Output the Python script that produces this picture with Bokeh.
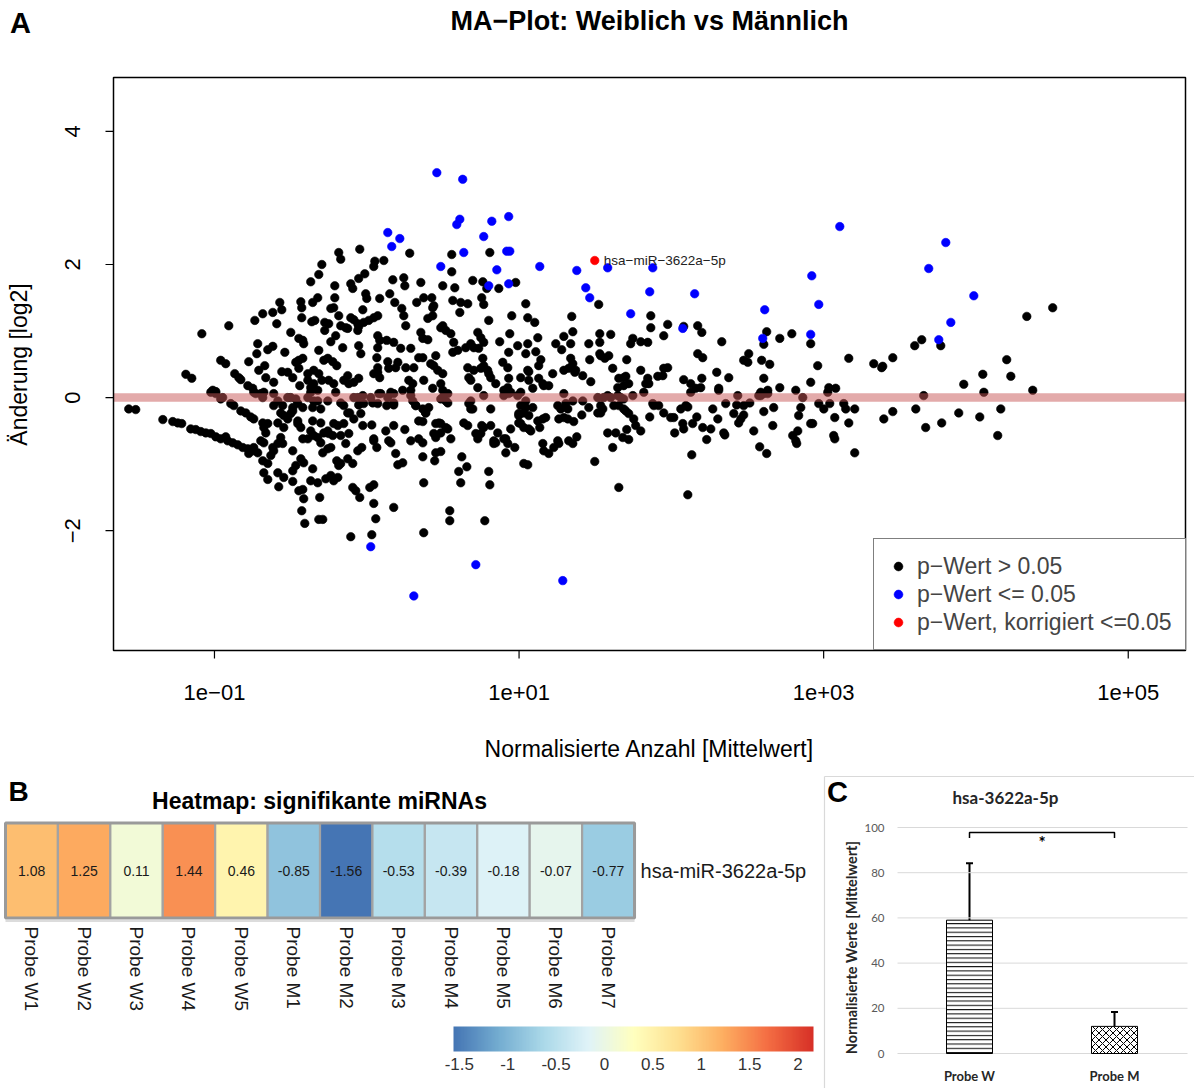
import math
from bokeh.plotting import figure
from bokeh.layouts import column, row
from bokeh.models import (Range1d, FixedTicker, CustomJSTickFormatter, Legend, LegendItem,
                          LinearColorMapper, ColorBar, ColumnDataSource, Whisker, TeeHead)
from bokeh.core.properties import value, field
from bokeh.palettes import RdYlBu9
from bokeh.embed import file_html
from bokeh.resources import INLINE

# ---------------------------------------------------------------- data
# MA plot: (log10 of mean normalized count, log2 fold change)
ns_points = [
    (-1.083, 0.96), (-0.906, 1.08), (-1.188, 0.35), (-1.149, 0.29), (-0.959, 0.56), (-0.926, 0.51),
    (-1.011, 0.11), (-0.991, 0.09), (-0.867, 0.36), (-0.840, 0.30), (-0.827, 0.27), (-0.775, 0.54),
    (-0.781, 0.18), (-0.749, 0.14), (-0.729, 0.06), (-0.735, 1.16), (-0.683, 1.26), (-0.617, 1.28),
    (-0.591, 1.11), (-0.571, 1.43), (-0.558, 1.32), (-0.716, 0.81), (-0.722, 0.66), (-0.650, 0.72),
    (-0.617, 0.77), (-0.709, 0.41), (-0.670, 0.48), (-0.663, 0.30), (-0.611, 0.23), (-0.538, 0.68),
    (-0.499, 0.98), (-0.558, 0.39), (-0.519, 0.38), (-0.486, 0.30), (-0.446, 0.56), (-0.440, 0.18),
    (-0.433, 1.44), (-0.427, 1.35), (-0.427, 1.20), (-0.361, 1.14), (-0.341, 1.16), (-0.446, 0.89),
    (-0.414, 0.81), (-0.368, 1.74), (-0.355, 1.43), (-0.322, 1.50), (-0.315, 1.85), (-0.295, 2.00),
    (-0.276, 1.13), (-0.250, 1.11), (-0.276, 1.01), (-0.236, 0.84), (-0.236, 1.34), (-0.217, 1.35),
    (-0.210, 1.50), (-0.210, 1.68), (-0.184, 2.18), (-0.171, 2.08), (-0.184, 1.23), (-0.171, 1.08),
    (-0.138, 1.05), (-0.158, 0.75), (-0.315, 0.71), (-0.282, 0.56), (-0.256, 0.59), (-0.223, 0.54),
    (-0.197, 0.48), (-0.348, 0.41), (-0.315, 0.36), (-0.295, 0.26), (-0.250, 0.26), (-0.217, 0.21),
    (-0.151, 0.26), (-0.118, 0.21), (-0.368, 0.15), (-0.322, 0.11), (-0.387, 0.26), (-0.105, 1.71),
    (-0.092, 1.64), (-0.053, 1.79), (-0.046, 2.23), (-0.013, 1.86), (-0.007, 1.56), (0.000, 1.49),
    (-0.026, 1.32), (-0.105, 1.20), (-0.085, 1.17), (-0.059, 1.11), (-0.053, 1.07), (-0.020, 1.13),
    (0.013, 1.16), (0.046, 1.20), (0.072, 1.23), (-0.053, 0.78), (-0.039, 0.66), (0.053, 2.05),
    (0.046, 1.97), (0.085, 1.49), (0.112, 2.06), (0.072, 0.93), (0.085, 0.86), (0.072, 0.75),
    (0.066, 0.60), (0.072, 0.45), (0.072, 0.38), (0.085, 0.30), (-0.053, 0.29), (0.138, 0.54),
    (0.144, 0.44), (0.171, 1.77), (0.151, 1.56), (0.184, 1.43), (0.230, 1.34), (0.243, 1.23),
    (0.256, 1.08), (0.282, 2.17), (0.243, 1.80), (0.250, 1.68), (0.355, 1.73), (0.328, 1.43),
    (0.374, 1.50), (0.401, 1.19), (0.355, 0.98), (0.401, 0.87), (0.131, 0.86), (0.177, 0.83),
    (0.223, 0.74), (0.204, 0.53), (0.256, 0.45), (0.309, 0.45), (0.276, 0.26), (0.302, 0.21),
    (0.368, 0.60), (0.420, 0.51), (0.466, 0.41), (0.486, 0.21), (0.499, 0.11), (0.433, 1.35),
    (0.433, 1.23), (0.427, 1.50), (0.499, 1.68), (0.558, 2.15), (0.558, 1.89), (0.578, 1.65),
    (0.565, 1.46), (0.617, 1.43), (0.611, 1.28), (0.663, 1.41), (0.696, 1.76), (0.808, 2.18),
    (0.762, 1.74), (0.788, 1.64), (0.755, 1.50), (0.768, 1.40), (0.801, 1.16), (0.499, 1.08),
    (0.519, 1.01), (0.552, 0.96), (0.571, 0.83), (0.598, 0.71), (0.565, 0.68), (0.650, 0.75),
    (0.683, 0.81), (0.729, 0.98), (0.749, 0.90), (0.768, 0.83), (0.703, 0.75), (0.735, 0.74),
    (0.762, 0.59), (0.663, 0.45), (0.703, 0.41), (0.749, 0.44), (0.794, 0.41), (0.683, 0.26),
    (0.729, 0.15), (0.814, 0.30), (0.847, 0.21), (0.867, 1.64), (0.978, 1.73), (0.952, 1.23),
    (0.939, 0.96), (0.873, 0.84), (0.932, 0.68), (0.991, 0.78), (1.057, 0.81), (0.893, 0.53),
    (0.926, 0.45), (0.932, 0.29), (1.044, 1.41), (1.057, 1.20), (1.011, 0.30), (1.064, 0.26),
    (1.044, 0.66), (0.374, 0.26), (0.433, 0.14), (0.900, 0.11), (0.945, 0.08),
    (-1.563, -0.17), (-1.517, -0.18), (-1.339, -0.33), (-1.274, -0.36), (-1.241, -0.38),
    (-1.215, -0.39), (-1.156, -0.47), (-1.123, -0.48), (-1.090, -0.51), (-1.057, -0.53),
    (-1.024, -0.54), (-0.991, -0.59), (-0.959, -0.62), (-0.926, -0.59), (-0.913, -0.65),
    (-0.880, -0.68), (-0.847, -0.71), (-0.814, -0.75), (-0.781, -0.77), (-0.749, -0.80),
    (-0.716, -0.83), (-0.775, -0.84), (-0.742, -0.75), (-0.827, -0.20), (-0.794, -0.23),
    (-0.762, -0.29), (-0.742, -0.32), (-0.683, -0.38), (-0.676, -0.45), (-0.650, -0.39),
    (-0.663, -0.53), (-0.676, -0.68), (-0.617, -0.75), (-0.611, -0.80), (-0.683, -0.95),
    (-0.650, -0.99), (-0.676, -1.13), (-0.650, -1.23), (-0.630, -0.87), (-0.584, -1.13),
    (-0.578, -1.34), (-0.545, -1.20), (-0.486, -1.26), (-0.565, -0.60), (-0.552, -0.69),
    (-0.545, -0.45), (-0.611, -0.12), (-0.545, -0.27), (-0.519, -0.32), (-0.486, -0.20),
    (-0.486, -0.80), (-0.453, -0.39), (-0.486, -1.10), (-0.466, -1.02), (-0.433, -0.92),
    (-0.414, -0.98), (-0.368, -1.25), (-0.322, -1.28), (-0.355, -1.07), (-0.446, -1.40),
    (-0.420, -1.38), (-0.414, -1.52), (-0.427, -1.70), (-0.407, -1.89), (-0.315, -1.83),
    (-0.289, -1.83), (-0.309, -1.50), (-0.368, -0.50), (-0.348, -0.57), (-0.322, -0.60),
    (-0.420, -0.62), (-0.282, -0.53), (-0.250, -0.54), (-0.223, -0.57), (-0.289, -0.83),
    (-0.256, -0.77), (-0.236, -0.75), (-0.269, -1.22), (-0.236, -1.17), (-0.217, -1.25),
    (-0.190, -1.20), (-0.197, -0.95), (-0.184, -1.02), (-0.171, -0.99), (-0.217, -0.39),
    (-0.151, -0.39), (-0.171, -0.57), (-0.138, -0.69), (-0.118, -0.54), (-0.125, -0.92),
    (-0.092, -0.99), (-0.059, -0.80), (-0.033, -0.75), (-0.092, -1.35), (-0.072, -1.40),
    (-0.046, -1.50), (-0.112, -0.23), (-0.053, -0.11), (-0.039, -0.24), (0.033, -0.41),
    (0.046, -0.65), (0.066, -0.75), (0.020, -1.35), (0.046, -1.31), (0.046, -1.59),
    (0.059, -1.82), (0.033, -2.06), (-0.105, -2.09), (0.125, -0.50), (0.158, -0.68),
    (0.177, -0.42), (0.190, -0.84), (0.204, -1.01), (0.236, -0.98), (0.177, -1.65),
    (0.250, -0.48), (0.131, -0.12), (0.177, -0.11), (0.322, -0.12), (0.368, -0.17),
    (0.387, -0.23), (0.368, -0.36), (0.341, -0.62), (0.368, -0.68), (0.368, -0.89),
    (0.374, -1.28), (0.374, -2.03), (0.440, -0.54), (0.453, -0.60), (0.473, -0.38),
    (0.486, -0.39), (0.453, -0.83), (0.486, -0.81), (0.446, -0.95), (0.532, -0.47),
    (0.552, -0.62), (0.545, -1.70), (0.545, -1.85), (0.624, -0.89), (0.604, -1.11),
    (0.657, -1.04), (0.617, -1.28), (0.637, -0.38), (0.663, -0.42), (0.683, -0.17),
    (0.670, -0.09), (0.729, -0.62), (0.749, -0.54), (0.755, -0.42), (0.801, -1.11),
    (0.808, -1.31), (0.775, -1.85), (0.814, -0.17), (0.814, -0.42), (0.834, -0.69),
    (0.847, -0.68), (0.860, -0.53), (0.913, -0.62), (0.926, -0.69), (0.913, -0.83),
    (0.945, -0.47), (0.972, -0.75), (0.998, -0.27), (1.011, -0.39), (1.031, -0.45),
    (1.031, -0.99), (1.057, -1.01), (1.011, -0.12),
    (-1.024, 0.08), (-0.959, -0.02), (-0.893, -0.09), (-0.742, 0.08), (-0.676, 0.08),
    (-0.499, 0.00), (-0.453, -0.09), (-0.368, 0.08), (-0.322, -0.05), (-0.171, -0.08),
    (-0.059, 0.00), (-0.020, -0.09), (0.092, 0.06), (0.177, 0.06), (0.289, 0.11),
    (0.486, -0.02), (0.532, -0.08), (0.683, -0.05), (0.768, 0.03), (0.900, 0.03), (0.991, 0.03),
    (1.077, -0.50), (1.064, -0.27), (1.044, -0.15), (1.136, -0.45), (1.156, -0.32), (1.175, -0.30),
    (1.162, -0.80), (1.195, -0.84), (1.228, -0.75), (1.261, -0.69), (1.254, -0.12), (1.274, -0.17),
    (1.307, -0.09), (1.261, -0.32), (1.294, -0.30), (1.320, -0.32), (1.359, -0.36), (1.353, -0.69),
    (1.379, -0.59), (1.412, -0.26), (1.418, -0.05), (1.458, -0.15), (1.497, -0.96), (1.536, -0.12),
    (1.536, -0.23), (1.550, -0.17), (1.582, -0.53), (1.635, -0.53), (1.615, -0.75), (1.655, -1.35),
    (1.655, -0.12), (1.701, -0.20), (1.720, -0.24), (1.681, -0.60), (1.720, -0.63), (1.707, -0.48),
    (1.753, -0.32), (1.766, -0.42), (1.799, -0.50), (1.858, -0.29), (1.885, -0.12), (1.917, -0.12),
    (1.950, -0.23), (1.996, -0.30), (2.016, -0.30), (2.022, -0.53), (2.062, -0.17), (2.108, -0.14),
    (2.075, -0.39), (2.081, -0.47), (2.108, -1.46), (2.134, -0.86), (2.140, -0.39), (2.167, -0.29),
    (2.206, -0.45), (2.259, -0.47), (2.232, -0.63), (2.272, -0.17), (2.305, -0.32), (2.344, -0.53),
    (2.351, -0.56), (2.357, -0.09), (2.429, -0.11), (2.442, -0.38), (2.456, -0.32), (2.475, -0.26),
    (2.515, -0.08), (2.541, -0.50), (2.580, -0.74), (2.607, -0.21), (2.626, -0.84), (2.666, -0.42),
    (2.672, -0.15), (2.797, -0.57), (2.830, -0.50), (2.817, -0.65), (2.823, -0.69), (2.836, -0.27),
    (2.850, -0.15), (2.915, -0.39), (2.928, -0.39), (2.968, -0.09), (3.001, -0.17), (3.040, -0.09),
    (3.066, -0.57), (3.073, -0.62), (3.073, -0.30), (3.132, -0.09), (3.145, -0.17), (3.165, -0.38),
    (3.204, -0.17), (3.204, -0.83), (3.395, -0.32), (3.454, -0.21),
    (0.932, 0.06), (1.011, 0.08), (1.294, 0.06), (1.517, 0.00), (1.582, 0.03), (1.648, 0.03),
    (1.747, 0.03), (1.819, 0.08), (2.127, 0.08), (2.311, 0.11), (2.436, 0.03), (2.587, 0.03),
    (2.633, 0.06), (2.863, 0.00), (3.027, 0.08),
    (1.103, 1.13), (1.346, 1.22), (1.523, 1.40), (1.123, 0.90), (1.110, 0.69), (1.143, 0.57),
    (1.129, 0.48), (1.064, 0.39), (1.129, 0.29), (1.162, 0.18), (1.221, 0.36), (1.090, 0.14),
    (1.241, 0.81), (1.280, 0.72), (1.294, 0.92), (1.339, 0.81), (1.353, 0.99), (1.339, 0.59),
    (1.294, 0.41), (1.326, 0.44), (1.366, 0.38), (1.418, 0.33), (1.458, 0.81), (1.464, 0.57),
    (1.471, 0.24), (1.530, 0.96), (1.530, 0.83), (1.530, 0.66), (1.563, 0.59), (1.602, 0.95),
    (1.615, 0.44), (1.655, 0.29), (1.701, 0.32), (1.707, 0.57), (1.648, 0.15), (1.687, 0.18),
    (1.720, 0.21), (1.733, 0.81), (1.747, 0.89), (1.799, 0.84), (1.845, 0.83), (1.799, 0.41),
    (1.845, 0.29), (1.852, 0.21), (1.865, 1.23), (1.865, 1.05), (1.911, 0.32), (1.944, 0.33),
    (1.950, 0.93), (1.976, 1.10), (1.950, 0.44), (1.976, 0.45), (2.081, 1.07), (2.081, 0.27),
    (2.127, 0.21), (2.173, 1.08), (2.200, 0.98), (2.173, 0.66), (2.206, 0.60), (2.200, 0.29),
    (2.298, 0.38), (2.331, 0.84), (2.377, 0.30), (2.311, 0.14), (2.508, 0.66), (2.502, 0.53),
    (2.593, 0.56), (2.646, 0.50), (2.607, 0.80), (2.626, 0.99), (2.607, 0.29), (2.633, 0.11),
    (2.587, 0.08), (2.712, 0.89), (2.712, 0.15), (2.791, 0.96), (2.817, 0.11), (2.915, 0.81),
    (2.961, 0.48), (2.915, 0.23), (3.034, 0.15), (3.079, 0.14), (3.165, 0.59), (3.329, 0.51),
    (3.381, 0.45), (3.454, 0.60),
    (3.388, 0.47), (3.598, 0.78), (3.644, 0.87), (3.769, 0.78), (4.334, 1.22), (4.504, 1.35),
    (4.202, 0.57), (4.045, 0.35), (4.229, 0.32), (3.920, 0.20), (3.657, 0.03), (4.052, 0.08),
    (4.373, 0.11), (3.605, -0.17), (3.670, -0.45), (3.775, -0.38), (3.887, -0.23), (4.025, -0.29),
    (4.163, -0.17), (4.143, -0.57),
    (-0.991, 0.06), (-0.946, 0.00), (-0.873, -0.12), (-0.696, 0.06), (-0.683, 0.00), (-0.611, 0.06),
    (-0.584, -0.05), (-0.552, -0.12), (-0.519, 0.00), (-0.466, -0.02), (-0.486, -0.15),
    (-0.420, -0.15), (-0.387, 0.00), (-0.348, -0.05), (-0.355, -0.15), (-0.302, -0.17),
    (-0.256, -0.05), (-0.204, 0.08), (-0.151, -0.12), (-0.125, -0.23), (-0.085, 0.00),
    (-0.026, 0.03), (0.026, 0.00), (0.039, -0.08), (0.072, -0.09),
    (0.079, 0.06), (0.138, 0.00), (0.158, 0.08), (0.177, -0.08), (0.236, 0.11), (0.302, -0.05),
    (0.289, 0.03), (0.322, -0.12), (0.387, -0.23), (0.407, -0.15), (0.499, 0.00), (0.519, -0.05),
    (0.532, 0.06), (0.696, -0.17), (0.926, 0.15), (1.044, -0.05), (0.998, -0.24), (1.031, -0.23),
    (1.090, -0.15), (1.156, 0.21), (1.195, 0.18), (1.320, -0.17), (1.353, -0.05),
    (1.556, 0.00), (1.602, 0.00), (1.668, 0.00), (1.687, -0.02), (1.878, -0.09), (1.517, -0.23),
    (1.622, -0.12), (1.687, -0.17), (2.160, 0.14), (2.193, 0.15), (2.475, -0.12), (2.574, 0.03),
    (2.607, 0.06), (2.410, -0.24), (2.095, -0.12),
    (0.440, 1.38), (0.486, 1.05), (-0.059, 1.01), (-0.125, 1.04), (-0.420, 0.86), (-0.204, 0.93),
    (0.368, 0.89), (0.289, 0.74),
    (-0.466, 0.53), (-0.446, 0.44), (-0.420, 0.59), (-0.387, 0.36), (-0.348, 0.21), (-0.125, 0.33),
    (-0.085, 0.23), (0.046, 0.36),
    (-0.565, -0.23), (-0.584, -0.38), (-0.499, -0.24), (-0.453, -0.35), (-0.433, -0.45),
    (-0.355, -0.35), (-0.302, -0.38), (-0.256, -0.50), (-0.190, -0.42), (-0.085, -0.32),
    (-0.026, -0.42), (0.046, -0.62), (-0.302, -0.68), (-0.387, -0.62), (-0.584, -0.69),
    (-0.696, -0.65),
    (0.190, 0.45), (0.341, 0.60), (0.440, 0.48), (0.453, 0.63), (0.499, 0.36), (0.670, 0.30),
    (0.768, 0.48), (0.801, 0.36), (1.057, 0.41), (1.353, 0.51),
    (0.144, -0.65), (0.289, -0.65), (0.341, -0.35), (0.453, -0.39), (0.486, -0.53), (0.519, -0.45),
    (0.716, -0.54), (0.768, -0.45), (0.834, -0.65), (0.900, -0.62), (0.998, -0.38), (1.064, -0.47),
    (1.123, -0.35), (1.156, -0.69), (1.254, -0.65), (1.326, -0.65),
    (1.372, 0.41), (1.536, 0.63), (1.589, 0.63), (1.687, 0.30), (1.832, 0.21), (2.475, 0.56),
]

sig_points = [
    (0.460, 3.38), (0.630, 3.28), (0.591, 2.60), (0.611, 2.68), (0.821, 2.65), (0.932, 2.72),
    (0.768, 2.42), (0.138, 2.48), (0.217, 2.39), (0.164, 2.27), (0.486, 1.97), (0.637, 2.18),
    (0.919, 2.20), (0.939, 2.20), (0.854, 1.92), (0.801, 1.68), (0.932, 1.71), (1.136, 1.97),
    (1.379, 1.91), (1.582, 1.95), (1.878, 1.95), (1.438, 1.65), (1.464, 1.50), (1.858, 1.59),
    (2.153, 1.56), (1.733, 1.26), (2.075, 1.04), (2.613, 1.32), (2.600, 0.89), (3.106, 2.57),
    (2.922, 1.83), (2.968, 1.40), (2.915, 0.95), (3.802, 2.33), (3.690, 1.94), (3.986, 1.53),
    (3.835, 1.13), (3.756, 0.87), (0.026, -2.24), (0.309, -2.98), (0.716, -2.51), (1.287, -2.75),
]

padj_points = [(1.497, 2.06)]
padj_names = ["hsa−miR−3622a−5p"]

legend_labels = ["p−Wert > 0.05", "p−Wert <= 0.05", "p−Wert, korrigiert <=0.05"]
ma_x_ticks = [0.1, 10, 1000, 100000]
ma_y_ticks = [-2, 0, 2, 4]

# Heatmap of the significant miRNA (row-scaled expression)
samples = ["Probe W1", "Probe W2", "Probe W3", "Probe W4", "Probe W5", "Probe M1",
           "Probe M2", "Probe M3", "Probe M4", "Probe M5", "Probe M6", "Probe M7"]
heat_values = [1.08, 1.25, 0.11, 1.44, 0.46, -0.85, -1.56, -0.53, -0.39, -0.18, -0.07, -0.77]
heat_mirna = "hsa-miR-3622a-5p"
scale_low, scale_high = -1.56, 2.16
colorbar_ticks = [-1.5, -1, -0.5, 0, 0.5, 1, 1.5, 2]

# Bar chart: group means with standard deviation
groups = ["Probe W", "Probe M"]
group_means = [59.0, 12.0]
group_sd = [25.2, 6.4]
value_ticks = [0, 20, 40, 60, 80, 100]

FONT = "Liberation Sans"
CFONT = "Lato"


def split(points):
    return [10 ** p[0] for p in points], [p[1] for p in points]


def sci_label(t):
    e = round(math.log10(t))
    return "1e" + ("−" if e < 0 else "+") + f"{abs(e):02d}"


def minus_label(t):
    return ("−" + str(abs(t))) if t < 0 else str(t)


# ---------------------------------------------------------------- panel A: MA plot
WA, HA = 1194, 770
BOX_L, BOX_R, BOX_T, BOX_B = 113, 1185, 77, 650       # plot box on the canvas (px)
X0_LOG, X1_LOG = -1.663, 5.376                         # data extent of the box
Y0, Y1 = -3.80, 4.81
dec_px = (BOX_R - BOX_L) / (X1_LOG - X0_LOG)
unit_px = (BOX_B - BOX_T) / (Y1 - Y0)


def ax_x(px):
    return 10 ** (X0_LOG + (px - BOX_L) / dec_px)


def ax_y(py):
    return Y1 - (py - BOX_T) / unit_px


pa = figure(width=WA, height=HA, x_axis_type="log",
            x_range=Range1d(ax_x(0), ax_x(WA)), y_range=Range1d(ax_y(HA), ax_y(0)),
            x_axis_location=None, y_axis_location=None, min_border=0,
            output_backend="svg", toolbar_location=None)
pa.grid.visible = False
pa.outline_line_color = None

nx, ny = split(ns_points)
sx, sy = split(sig_points)
px_, py_ = split(padj_points)
r_ns = pa.scatter(nx, ny, size=8.5, fill_color="black", line_color="black", line_width=0.6)
r_sig = pa.scatter(sx, sy, size=8.5, fill_color="#0000ff", line_color="#0000ff", line_width=0.6)
r_padj = pa.scatter(px_, py_, size=8.5, fill_color="#ff0000", line_color="#ff0000", line_width=0.6)
pa.text(px_, py_, text=padj_names, x_offset=9, text_baseline="middle", text_align="left",
        text_font=value(FONT), text_font_size="13.5px", text_color="#222222")

# translucent zero line across the box, drawn over the points
pa.segment(x0=[ax_x(BOX_L)], x1=[ax_x(BOX_R)], y0=[0], y1=[0], line_color="#c75555",
           line_alpha=0.5, line_width=8.5)

# box, ticks, tick labels, axis titles
pa.quad(left=[ax_x(BOX_L)], right=[ax_x(BOX_R)], bottom=[Y0], top=[Y1], fill_color=None,
        line_color="black", line_width=1.5)
pa.segment(x0=ma_x_ticks, x1=ma_x_ticks, y0=[Y0] * 4, y1=[ax_y(BOX_B + 8)] * 4,
           line_color="black", line_width=1.2)
pa.segment(x0=[ax_x(BOX_L - 8)] * 4, x1=[ax_x(BOX_L)] * 4, y0=ma_y_ticks, y1=ma_y_ticks,
           line_color="black", line_width=1.2)
pa.text(x=ma_x_ticks, y=[ax_y(692)] * 4, text=[sci_label(t) for t in ma_x_ticks],
        text_align="center", text_baseline="middle", text_font=value(FONT),
        text_font_size="22px", text_color="black")
pa.text(x=[ax_x(72)] * 4, y=ma_y_ticks, text=[minus_label(t) for t in ma_y_ticks],
        angle=math.pi / 2, text_align="center", text_baseline="middle",
        text_font=value(FONT), text_font_size="22px", text_color="black")
pa.text(x=[ax_x(649)], y=[ax_y(748)], text=["Normalisierte Anzahl [Mittelwert]"],
        text_align="center", text_baseline="middle", text_font=value(FONT),
        text_font_size="23px", text_color="black")
pa.text(x=[ax_x(18)], y=[ax_y(364)], text=["Änderung [log2]"], angle=math.pi / 2,
        text_align="center", text_baseline="middle", text_font=value(FONT),
        text_font_size="23px", text_color="black")
pa.text(x=[ax_x(649)], y=[ax_y(20)], text=["MA−Plot: Weiblich vs Männlich"],
        text_align="center", text_baseline="middle", text_font=value(FONT),
        text_font_size="27px", text_font_style="bold", text_color="black")
pa.text(x=[ax_x(20)], y=[ax_y(22)], text=["A"], text_align="center", text_baseline="middle",
        text_font=value(FONT), text_font_size="29px", text_font_style="bold", text_color="black")

legend = Legend(items=[LegendItem(label=legend_labels[0], renderers=[r_ns]),
                       LegendItem(label=legend_labels[1], renderers=[r_sig]),
                       LegendItem(label=legend_labels[2], renderers=[r_padj])],
                location=(873, HA - BOX_B), margin=0, padding=13, spacing=0,
                glyph_width=22, glyph_height=28, label_height=28, label_standoff=8,
                label_text_font=FONT, label_text_font_size="23px",
                border_line_color="black", border_line_width=1.2,
                background_fill_color="white", background_fill_alpha=1)
pa.add_layout(legend)

# ---------------------------------------------------------------- panel B: heatmap
WB, HB = 822, 318
pb = figure(width=WB, height=HB, x_range=Range1d(0, WB), y_range=Range1d(0, HB),
            x_axis_location=None, y_axis_location=None, output_backend="svg",
            toolbar_location=None, min_border=0)
pb.grid.visible = False
pb.outline_line_color = None

cell_left, cell_w = 5.0, 52.42
cell_top, cell_h = 52.5, 95.0
row_y = HB - (cell_top + cell_h / 2)
label_top = HB - 156


def blend(c0, c1, t):
    a = [int(c0[i:i + 2], 16) for i in (1, 3, 5)]
    b = [int(c1[i:i + 2], 16) for i in (1, 3, 5)]
    return "#" + "".join(f"{round(a[k] + (b[k] - a[k]) * t):02x}" for k in range(3))


anchors = list(RdYlBu9)          # blue -> yellow -> red
palette = []
for k in range(256):
    t = k / 255 * (len(anchors) - 1)
    i = min(int(t), len(anchors) - 2)
    palette.append(blend(anchors[i], anchors[i + 1], t - i))
mapper = LinearColorMapper(palette=palette, low=scale_low, high=scale_high)

centers = [cell_left + (i + 0.5) * cell_w for i in range(len(samples))]
heat_src = ColumnDataSource(dict(x=centers, y=[row_y] * len(samples), v=heat_values,
                                 label=[f"{v:.2f}" for v in heat_values], name=samples))
# faint shadow under the heatmap strip
pb.segment(x0=[cell_left], x1=[cell_left + cell_w * len(samples)],
           y0=[row_y - cell_h / 2 - 3], y1=[row_y - cell_h / 2 - 3],
           line_color="#dcdcdc", line_width=2)
pb.rect(x="x", y="y", width=cell_w, height=cell_h, source=heat_src,
        fill_color={"field": "v", "transform": mapper}, line_color="#a3a3a3", line_width=2.2)
pb.rect(x=[cell_left + cell_w * len(samples) / 2], y=[row_y], width=cell_w * len(samples),
        height=cell_h, fill_color=None, line_color="#9a9a9a", line_width=3)
pb.text(x="x", y="y", text="label", source=heat_src, text_align="center",
        text_baseline="middle", text_font=value(FONT), text_font_size="14px",
        text_color="#1a1a1a")
pb.text(x=[cell_left + cell_w * len(samples) + 6], y=[row_y], text=[heat_mirna],
        text_align="left", text_baseline="middle", text_font=value(FONT),
        text_font_size="20px", text_color="#1a1a1a")
pb.text(x="x", y=label_top, text="name", source=heat_src,
        angle=-math.pi / 2, text_align="left", text_baseline="middle",
        text_font=value(FONT), text_font_size="19px", text_color="#1a1a1a")
pb.text(x=[319], y=[HB - 30], text=["Heatmap: signifikante miRNAs"],
        text_align="center", text_baseline="middle", text_font=value(FONT),
        text_font_size="23px", text_font_style="bold", text_color="black")
pb.text(x=[18], y=[HB - 21], text=["B"], text_align="center", text_baseline="middle",
        text_font=value(FONT), text_font_size="28px", text_font_style="bold",
        text_color="black")

cbar = ColorBar(color_mapper=mapper, orientation="horizontal", width=360, height=25,
                location=(453, 16), padding=0, ticker=FixedTicker(ticks=colorbar_ticks),
                formatter=CustomJSTickFormatter(code="return String(tick);"),
                major_label_text_font=FONT, major_label_text_font_size="17px",
                major_label_text_color="#333333", major_tick_line_color=None,
                minor_tick_line_color=None, label_standoff=6, bar_line_color=None,
                border_line_color=None, background_fill_color=None)
pb.add_layout(cbar)

# ---------------------------------------------------------------- panel C: bar chart
WC, HC = 372, 318
C_CAT0_PX, C_ZERO_PX = 147, 283          # first category centre / value 0 within the panel
C_CAT_STEP, C_UNIT_PX = 145, 2.26


def cc_x(px):
    return (px - C_CAT0_PX) / C_CAT_STEP


def cc_y(py):
    return (C_ZERO_PX - py) / C_UNIT_PX


pc = figure(width=WC, height=HC, x_range=Range1d(cc_x(0), cc_x(WC)),
            y_range=Range1d(cc_y(HC), cc_y(0)), x_axis_location=None, y_axis_location=None,
            min_border=0, output_backend="svg", toolbar_location=None)
pc.grid.visible = False
pc.outline_line_color = None

# chart-area border (left and top)
pc.segment(x0=[cc_x(2), cc_x(2)], x1=[cc_x(2), cc_x(WC)], y0=[cc_y(HC), cc_y(6)],
           y1=[cc_y(6), cc_y(6)], line_color="#d9d9d9", line_width=1.2)

n_t = len(value_ticks)
pc.segment(x0=[cc_x(75)] * n_t, x1=[cc_x(365)] * n_t, y0=value_ticks, y1=value_ticks,
           line_color="#d9d9d9", line_width=1)
pc.text(x=[cc_x(62)] * n_t, y=value_ticks, text=[str(v) for v in value_ticks],
        text_align="right", text_baseline="middle", text_font=value(CFONT),
        text_font_size="11.5px", text_color="#595959")
pc.text(x=[cc_x(29)], y=[cc_y(177)], text=["Normalisierte Werte [Mittelwert]"],
        angle=math.pi / 2, text_align="center", text_baseline="middle",
        text_font=value(CFONT), text_font_size="14.5px", text_font_style="bold",
        text_color="#262626")

cat_x = list(range(len(groups)))
bar_src = ColumnDataSource(dict(
    x=cat_x, mean=group_means,
    upper=[m + s for m, s in zip(group_means, group_sd)],
    lower=[m - s for m, s in zip(group_means, group_sd)],
    hatch=["horizontal_line", "diagonal_cross"], hscale=[4.3, 7.0]))
pc.vbar(x="x", top="mean", width=46 / C_CAT_STEP, source=bar_src, fill_color="white",
        line_color="black", line_width=1, hatch_pattern=field("hatch"),
        hatch_scale=field("hscale"), hatch_color="black", hatch_weight=1)
pc.add_layout(Whisker(source=bar_src, base="x", upper="upper", lower="lower",
                      line_color="black", line_width=2,
                      upper_head=TeeHead(size=7, line_width=2, line_color="black"),
                      lower_head=TeeHead(size=7, line_width=2, line_color="black")))
pc.text(x=cat_x, y=[cc_y(305)] * len(groups), text=groups, text_align="center",
        text_baseline="middle", text_font=value(CFONT), text_font_size="13px",
        text_font_style="bold", text_color="#262626")

bracket_top, bracket_foot = 97.8, 95.4
pc.line(x=[cat_x[0], cat_x[0], cat_x[1], cat_x[1]],
        y=[bracket_foot, bracket_top, bracket_top, bracket_foot],
        line_color="black", line_width=1.5)
pc.text(x=[(cat_x[0] + cat_x[1]) / 2], y=[cc_y(72)], text=["*"], text_align="center",
        text_baseline="middle", text_font=value(CFONT), text_font_size="17px",
        text_font_style="bold", text_color="black")

pc.text(x=[cc_x(183)], y=[cc_y(27)], text=["hsa-3622a-5p"], text_align="center",
        text_baseline="middle", text_font=value(CFONT), text_font_size="17px",
        text_font_style="bold", text_color="#262626")
pc.text(x=[cc_x(15)], y=[cc_y(21)], text=["C"], text_align="center", text_baseline="middle",
        text_font=value(FONT), text_font_size="29px", text_font_style="bold",
        text_color="black")

layout = column(pa, row(pb, pc))
open("out.html", "w").write(file_html(layout, INLINE))
